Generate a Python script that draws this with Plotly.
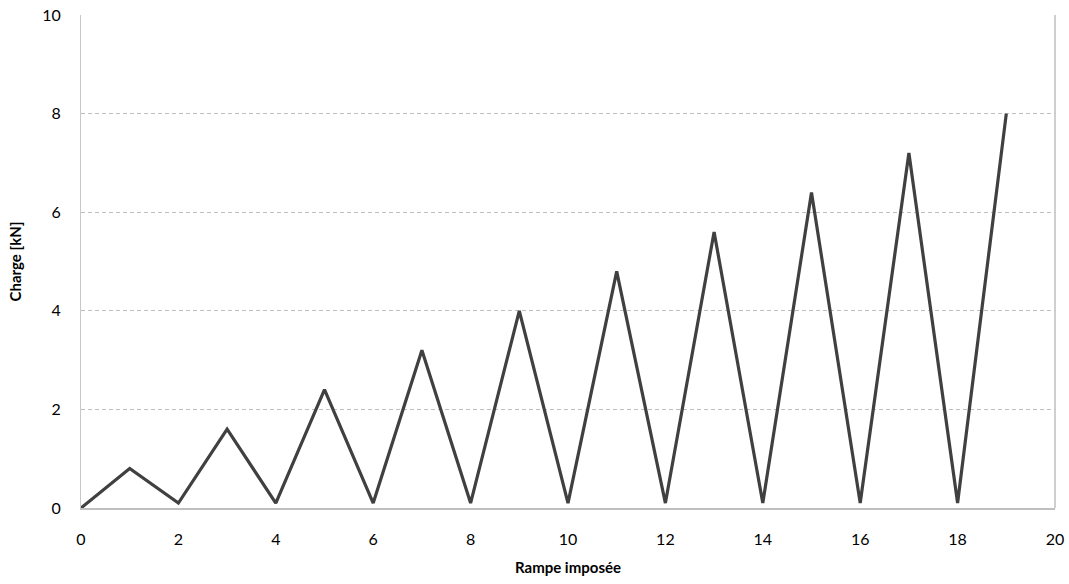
import plotly.graph_objects as go

x_vals = list(range(0, 20))
charge = [0, 0.8, 0.1, 1.6, 0.1, 2.4, 0.1, 3.2, 0.1, 4.0, 0.1, 4.8, 0.1, 5.6, 0.1, 6.4, 0.1, 7.2, 0.1, 8.0]
x_ticks = list(range(0, 21, 2))
y_ticks = list(range(0, 11, 2))

fig = go.Figure()
fig.add_trace(go.Scatter(x=x_vals, y=charge, mode="lines",
                         line=dict(color="#404040", width=3.2), showlegend=False))

font_family = "Lato, 'Open Sans', sans-serif"
fig.update_layout(
    width=1069, height=584,
    margin=dict(l=81, r=14, t=15, b=76),
    paper_bgcolor="white", plot_bgcolor="white",
    font=dict(family=font_family, size=16, color="black"),
    xaxis=dict(range=[0, 20], tickvals=x_ticks, showgrid=False, zeroline=False,
               showline=True, linecolor="#bfbfbf", linewidth=1.5, ticks="",
               mirror=False, automargin=False, ticklabelstandoff=16,
               title=dict(text="<b>Rampe imposée</b>", font=dict(size=15), standoff=16)),
    yaxis=dict(range=[0, 10], tickvals=y_ticks, showgrid=True, gridcolor="#bfbfbf",
               griddash="4px,3px", gridwidth=1, zeroline=False, automargin=False,
               showline=True, linecolor="#c8c8c8", linewidth=1, ticks="",
               ticklabelstandoff=16,
               title=dict(text="<b>Charge [kN]</b>", font=dict(size=15), standoff=16)),
)
fig.add_shape(type="line", xref="paper", yref="paper", x0=1, x1=1, y0=0, y1=1,
              line=dict(color="#bfbfbf", width=1.5))
fig.write_html("out.html", config={"displayModeBar": False},
               post_script="document.body.style.margin='0';document.body.style.overflow='hidden';")
